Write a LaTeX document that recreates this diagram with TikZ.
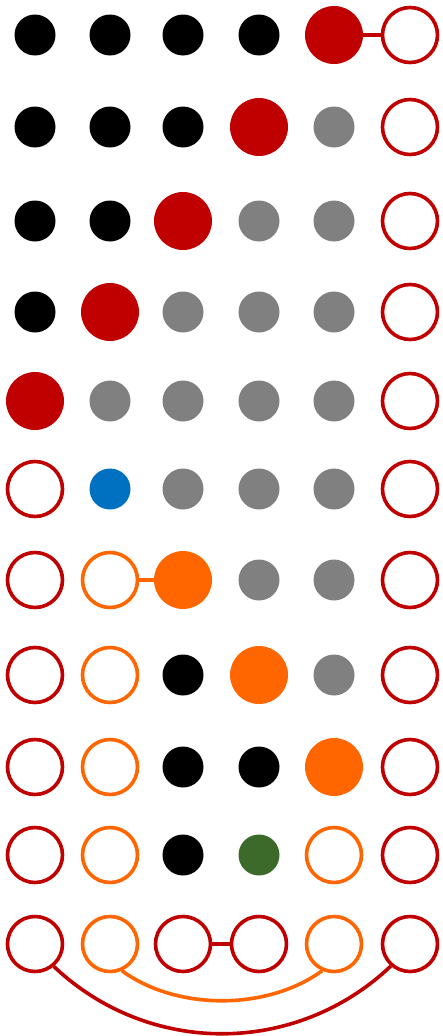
\documentclass[tikz,border=0pt]{standalone}
\definecolor{cred}{HTML}{C00000}
\definecolor{corange}{HTML}{FF6600}
\definecolor{cgray}{HTML}{808080}
\definecolor{cblue}{HTML}{0070C0}
\definecolor{cgreen}{HTML}{3C6A2A}
\tikzset{
  dotk/.style={circle,fill=black,inner sep=0pt,minimum size=41pt},
  dotg/.style={circle,fill=cgray,inner sep=0pt,minimum size=41pt},
  dotb/.style={circle,fill=cblue,inner sep=0pt,minimum size=41pt},
  dotgr/.style={circle,fill=cgreen,inner sep=0pt,minimum size=41pt},
  bigr/.style={circle,fill=cred,inner sep=0pt,minimum size=58pt},
  bigo/.style={circle,fill=corange,inner sep=0pt,minimum size=58pt},
  holr/.style={circle,draw=cred,line width=3.6pt,fill=white,inner sep=0pt,minimum size=55pt},
  holo/.style={circle,draw=corange,line width=3.6pt,fill=white,inner sep=0pt,minimum size=55pt},
  linkr/.style={draw=cred,line width=3.6pt},
  linko/.style={draw=corange,line width=3.6pt},
}
\begin{document}
\begin{tikzpicture}[x=1pt,y=-1pt]
\useasboundingbox (0,0) rectangle (442,1036);
% row 1
\node[dotk] (r1c1) at (35,35) {};
\node[dotk] (r1c2) at (110,35) {};
\node[dotk] (r1c3) at (183,35) {};
\node[dotk] (r1c4) at (259,35) {};
\node[bigr] (r1c5) at (334,35) {};
\node[holr] (r1c6) at (410,35) {};
% row 2
\node[dotk] (r2c1) at (35,127) {};
\node[dotk] (r2c2) at (110,127) {};
\node[dotk] (r2c3) at (183,127) {};
\node[bigr] (r2c4) at (259,127) {};
\node[dotg] (r2c5) at (334,127) {};
\node[holr] (r2c6) at (410,127) {};
% row 3
\node[dotk] (r3c1) at (35,221) {};
\node[dotk] (r3c2) at (110,221) {};
\node[bigr] (r3c3) at (183,221) {};
\node[dotg] (r3c4) at (259,221) {};
\node[dotg] (r3c5) at (334,221) {};
\node[holr] (r3c6) at (410,221) {};
% row 4
\node[dotk] (r4c1) at (35,312) {};
\node[bigr] (r4c2) at (110,312) {};
\node[dotg] (r4c3) at (183,312) {};
\node[dotg] (r4c4) at (259,312) {};
\node[dotg] (r4c5) at (334,312) {};
\node[holr] (r4c6) at (410,312) {};
% row 5
\node[bigr] (r5c1) at (35,401) {};
\node[dotg] (r5c2) at (110,401) {};
\node[dotg] (r5c3) at (183,401) {};
\node[dotg] (r5c4) at (259,401) {};
\node[dotg] (r5c5) at (334,401) {};
\node[holr] (r5c6) at (410,401) {};
% row 6
\node[holr] (r6c1) at (35,489) {};
\node[dotb] (r6c2) at (110,489) {};
\node[dotg] (r6c3) at (183,489) {};
\node[dotg] (r6c4) at (259,489) {};
\node[dotg] (r6c5) at (334,489) {};
\node[holr] (r6c6) at (410,489) {};
% row 7
\node[holr] (r7c1) at (35,580) {};
\node[holo] (r7c2) at (110,580) {};
\node[bigo] (r7c3) at (183,580) {};
\node[dotg] (r7c4) at (259,580) {};
\node[dotg] (r7c5) at (334,580) {};
\node[holr] (r7c6) at (410,580) {};
% row 8
\node[holr] (r8c1) at (35,675) {};
\node[holo] (r8c2) at (110,675) {};
\node[dotk] (r8c3) at (183,675) {};
\node[bigo] (r8c4) at (259,675) {};
\node[dotg] (r8c5) at (334,675) {};
\node[holr] (r8c6) at (410,675) {};
% row 9
\node[holr] (r9c1) at (35,767) {};
\node[holo] (r9c2) at (110,767) {};
\node[dotk] (r9c3) at (183,767) {};
\node[dotk] (r9c4) at (259,767) {};
\node[bigo] (r9c5) at (334,767) {};
\node[holr] (r9c6) at (410,767) {};
% row 10
\node[holr] (r10c1) at (35,855) {};
\node[holo] (r10c2) at (110,855) {};
\node[dotk] (r10c3) at (183,855) {};
\node[dotgr] (r10c4) at (259,855) {};
\node[holo] (r10c5) at (334,855) {};
\node[holr] (r10c6) at (410,855) {};
% row 11
\node[holr] (r11c1) at (35,944) {};
\node[holo] (r11c2) at (110,944) {};
\node[holr] (r11c3) at (183,944) {};
\node[holr] (r11c4) at (259,944) {};
\node[holo] (r11c5) at (334,944) {};
\node[holr] (r11c6) at (410,944) {};
% connectors
\draw[linkr] (r1c5) -- (r1c6);
\draw[linko] (r7c2) -- (r7c3);
\draw[linkr] (r11c3) -- (r11c4);
\draw[linkr] (r11c1.-50) .. controls +(95,90) and +(-95,90) .. (r11c6.-131);
\draw[linko] (r11c2.-66) .. controls +(55,40) and +(-55,40) .. (r11c5.-114);
\end{tikzpicture}
\end{document}
